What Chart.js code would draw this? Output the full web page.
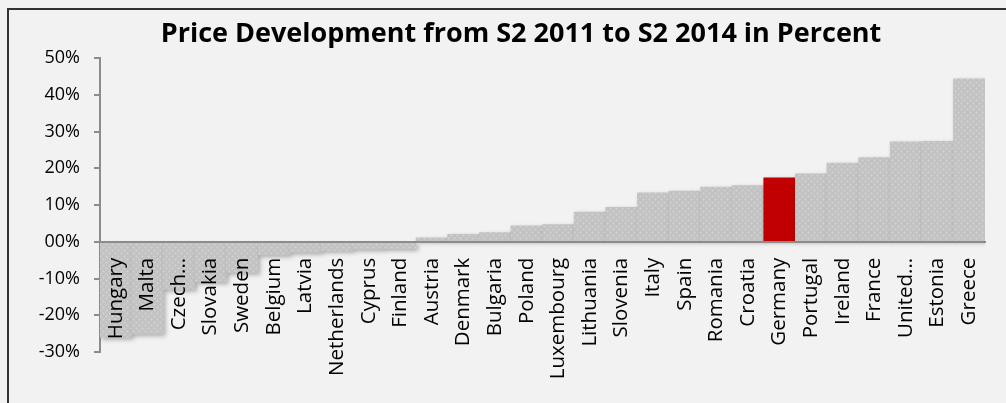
<!DOCTYPE html>
<html>
<head>
<meta charset="utf-8">
<script src="https://cdn.jsdelivr.net/npm/chart.js@4.4.1/dist/chart.umd.min.js"></script>
<style>
  html, body { margin: 0; padding: 0; background: #f2f2f2; }
  #wrap { width: 1006px; height: 403px; position: relative; }
</style>
</head>
<body>
<div id="wrap"><canvas id="c" width="1006" height="403"></canvas></div>
<script>
// ---- DATA ----
const categories = ["Hungary","Malta","Czech Republic","Slovakia","Sweden","Belgium","Latvia","Netherlands","Cyprus","Finland","Austria","Denmark","Bulgaria","Poland","Luxembourg","Lithuania","Slovenia","Italy","Spain","Romania","Croatia","Germany","Portugal","Ireland","France","United Kingdom","Estonia","Greece"];
const tickLabels = ["Hungary","Malta","Czech...","Slovakia","Sweden","Belgium","Latvia","Netherlands","Cyprus","Finland","Austria","Denmark","Bulgaria","Poland","Luxembourg","Lithuania","Slovenia","Italy","Spain","Romania","Croatia","Germany","Portugal","Ireland","France","United...","Estonia","Greece"];
const priceChange = [-26.0,-25.1,-13.0,-10.9,-8.4,-3.6,-2.9,-2.4,-2.0,-1.9,1.1,2.0,2.5,4.3,4.7,8.1,9.4,13.3,13.8,14.9,15.3,17.4,18.5,21.4,22.9,27.2,27.3,44.3];
const highlighted = "Germany";
const yTicks = [-30,-20,-10,0,10,20,30,40,50];
const titleText = "Price Development from S2 2011 to S2 2014 in Percent";

// ---- STYLE ----
function makePattern() {
  const p = document.createElement('canvas');
  p.width = 6; p.height = 6;
  const g = p.getContext('2d');
  g.fillStyle = '#c2c2c2';
  g.fillRect(0, 0, 6, 6);
  g.fillStyle = '#d3d3d3';
  g.beginPath(); g.arc(1.5, 1.5, 1.1, 0, Math.PI * 2); g.fill();
  g.beginPath(); g.arc(4.5, 4.5, 1.1, 0, Math.PI * 2); g.fill();
  return document.getElementById('c').getContext('2d').createPattern(p, 'repeat');
}
const grayFill = makePattern();
const barColors = categories.map(c => c === highlighted ? '#c00000' : grayFill);

const frameAndShadow = {
  id: 'frameAndShadow',
  afterLayout(chart) {
    // let the y tick labels extend left of the (narrow) y-axis box without clipping
    chart.scales.y.left = 0;
  },
  beforeDraw(chart) {
    const ctx = chart.ctx;
    ctx.save();
    ctx.fillStyle = '#f2f2f2';
    ctx.fillRect(0, 0, chart.width, chart.height);
    ctx.strokeStyle = '#333333';
    ctx.lineWidth = 2;
    ctx.beginPath();
    ctx.moveTo(8, chart.height);
    ctx.lineTo(8, 9);
    ctx.lineTo(chart.width, 9);
    ctx.stroke();
    ctx.restore();
  },
  beforeDatasetsDraw(chart) {
    const ctx = chart.ctx;
    ctx.save();
    ctx.shadowColor = 'rgba(0,0,0,0.28)';
    ctx.shadowBlur = 4;
    ctx.shadowOffsetX = 2;
    ctx.shadowOffsetY = 2;
  },
  afterDatasetsDraw(chart) {
    chart.ctx.restore();
  }
};

new Chart(document.getElementById('c'), {
  type: 'bar',
  data: {
    labels: tickLabels,
    datasets: [{
      data: priceChange,
      backgroundColor: barColors,
      borderWidth: 0,
      barPercentage: 1.0,
      categoryPercentage: 1.0
    }]
  },
  options: {
    responsive: false,
    animation: false,
    devicePixelRatio: 1,
    layout: { padding: { left: 57, right: 21, top: 0, bottom: 51 } },
    plugins: {
      legend: { display: false },
      tooltip: { enabled: false },
      title: {
        display: true,
        text: titleText,
        color: '#000000',
        font: { family: 'Open Sans', size: 27, weight: 'bold', lineHeight: 1.2 },
        padding: { top: 18, bottom: 7.6 }
      }
    },
    scales: {
      x: {
        position: { y: 0 },
        afterFit(scale) { scale.paddingLeft = 0; scale.paddingRight = 0; },
        grid: { display: false, drawTicks: false },
        border: { display: true, color: '#8c8c8c', width: 2, z: 1 },
        ticks: {
          z: 1,
          autoSkip: false,
          minRotation: 90,
          maxRotation: 90,
          padding: 16,
          color: '#000000',
          font: { family: 'Open Sans', size: 20.5 }
        }
      },
      y: {
        min: -30,
        max: 50,
        afterBuildTicks(scale) { scale.ticks = yTicks.map(v => ({ value: v })); },
        afterFit(scale) { scale.width = 43; },
        grid: { drawOnChartArea: false, drawTicks: true, tickLength: 6, color: '#8c8c8c', lineWidth: 2 },
        border: { display: true, color: '#8c8c8c', width: 2 },
        ticks: {
          padding: 14,
          color: '#000000',
          font: { family: 'Open Sans', size: 18 },
          callback: v => (v < 0 ? '-' : '') + String(Math.abs(v)).padStart(2, '0') + '%'
        }
      }
    }
  },
  plugins: [frameAndShadow]
});
</script>
</body>
</html>
